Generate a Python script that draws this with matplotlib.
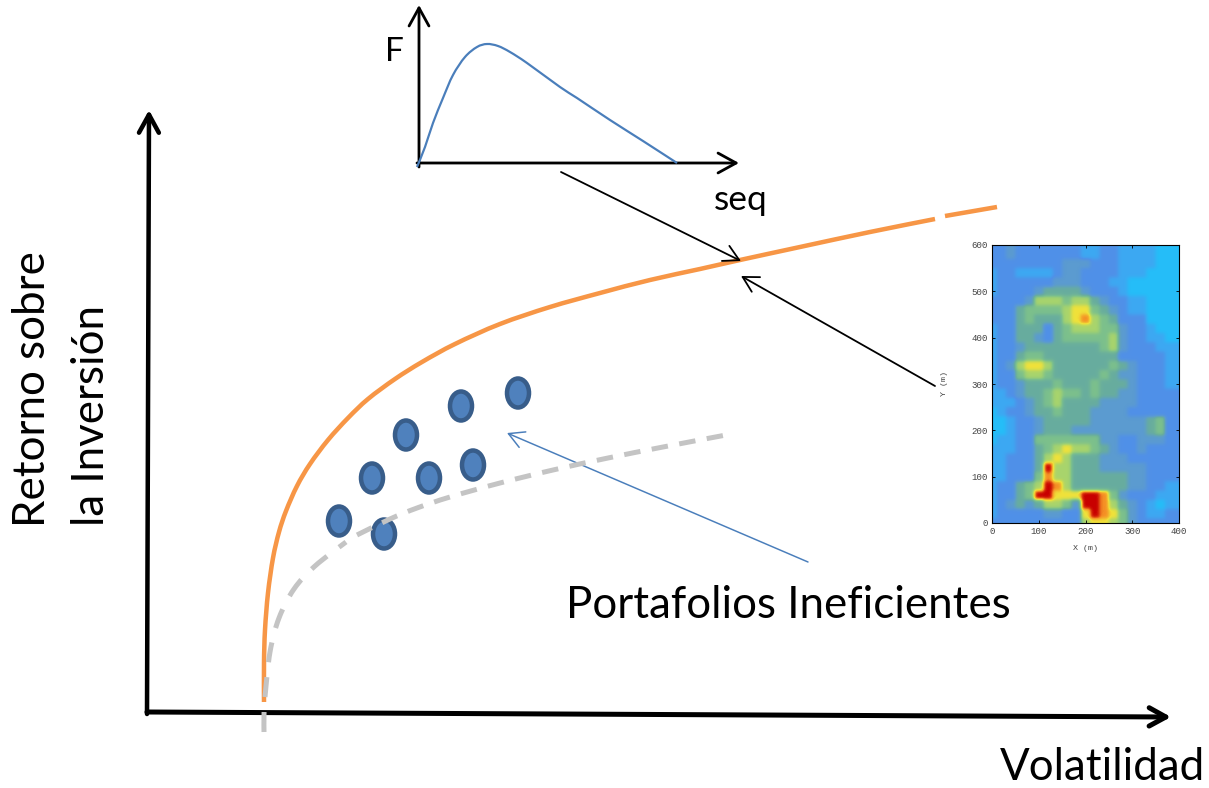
import numpy as np
import matplotlib
matplotlib.use("Agg")
import matplotlib.pyplot as plt
from matplotlib.colors import LinearSegmentedColormap
from matplotlib.patches import Ellipse, PathPatch
from matplotlib.path import Path

plt.rcParams['font.family'] = ['Lato', 'DejaVu Sans']

W, H = 1209, 788

frontier_x = [264, 264, 265, 268, 273, 279, 286, 297, 310, 328, 348, 368, 395, 422, 455, 500, 550, 600, 650, 700, 740, 800, 870, 935]
frontier_y = [702, 663, 630, 593, 558, 532, 511, 486, 464, 440, 418, 399, 379, 362, 344, 324, 307, 293, 280, 269, 260, 247, 232, 219]
frontier_end_x = [945, 997]
frontier_end_y = [216, 207]

inefficient_low_x = [264, 264, 265, 270, 279, 294, 315, 346]
inefficient_low_y = [732, 715, 697, 652, 618, 589, 566, 542]
inefficient_high_x = [357, 390, 417, 450, 500, 553, 608, 663, 726]
inefficient_high_y = [535, 519, 508, 497, 483, 470, 458, 447, 435]

dots_x = [339, 384, 372, 406, 429, 473, 461, 518]
dots_y = [521, 534, 478, 435, 478, 465, 406, 393]

inset_x = [417, 425, 433, 443, 453, 465, 477, 487, 498, 510, 527, 560, 577, 610, 643, 677]
inset_y = [167, 147, 123, 98, 75, 57, 47, 44, 46, 52, 63, 87, 98, 120, 141, 163]

heat_rows = [
    "22322222221122111100",
    "22322222221122111100",
    "22222222333222111100",
    "12211112332222111000",
    "12222223332221100000",
    "12222344443222100000",
    "22223666566432211000",
    "22245555677543211000",
    "22245444678654222000",
    "12244424566655322100",
    "12244324555556322110",
    "12234444444456322211",
    "12245544444444222221",
    "12367764444445432221",
    "12256654444454332221",
    "12234445444544432221",
    "11234456554544332222",
    "11123456444433332222",
    "01223445444333322222",
    "00122344444333333452",
    "00122344433333333452",
    "01122555555533223332",
    "11122456766543223222",
    "11222467644433322222",
    "11222496644433333222",
    "11222586644444433222",
    "12245698644444433221",
    "12245997779985322211",
    "12343466539986432101",
    "12222233227987532112",
    "22222222226776532222",
]
heat_levels = ["#25bdf8", "#3da8f2", "#5090e8", "#5b9bd0", "#68ad9e", "#7cc08c", "#a8d46c", "#f0e23a", "#f59025", "#c80000"]
tick_x = [0, 100, 200, 300, 400]
tick_y = [0, 100, 200, 300, 400, 500, 600]

fig = plt.figure(figsize=(W / 100, H / 100), dpi=100)
ax = fig.add_axes([0, 0, 1, 1])
ax.set_xlim(0, W)
ax.set_ylim(H, 0)
ax.axis('off')


def px(v):
    return v * 0.72


def smooth_path(xs, ys):
    pts = np.column_stack([xs, ys]).astype(float)
    padded = np.vstack([pts[0], pts, pts[-1]])
    verts = [pts[0]]
    codes = [Path.MOVETO]
    for i in range(1, len(padded) - 2):
        p0, p1, p2, p3 = padded[i - 1], padded[i], padded[i + 1], padded[i + 2]
        verts += [p1 + (p2 - p0) / 6, p2 - (p3 - p1) / 6, p2]
        codes += [Path.CURVE4] * 3
    return Path(verts, codes)


def curve(xs, ys, color, lw, z, **kw):
    ax.add_patch(PathPatch(smooth_path(xs, ys), fc='none', ec=color, lw=px(lw), zorder=z, capstyle='butt', **kw))


for cx, cy in zip(dots_x, dots_y):
    ax.add_patch(Ellipse((cx, cy), 22, 29, fc="#4f81bd", ec="#385d8a", lw=px(4.5), zorder=2))

curve(inefficient_low_x, inefficient_low_y, "#c4c4c4", 5, 4.5, linestyle=(0, (4.0, 3.0)))
curve(inefficient_high_x, inefficient_high_y, "#c4c4c4", 5, 4.5, linestyle=(0, (3.3, 2.3)))
curve(frontier_x, frontier_y, "#f79646", 4.5, 2.5)
curve(frontier_end_x, frontier_end_y, "#f79646", 4.5, 2.5)
curve(inset_x, inset_y, "#4a7ebb", 2.2, 4.2)


def arrow(start, end, color, lw, size):
    ax.annotate("", xy=end, xytext=start, zorder=4,
                arrowprops=dict(arrowstyle=f"->,head_length={size},head_width={size * 0.55}",
                                color=color, lw=px(lw), shrinkA=0, shrinkB=0))


arrow((147, 714), (149, 110), "black", 4.5, 1.3)
arrow((147, 712), (1171, 717), "black", 5, 1.2)
arrow((419, 167), (419, 5), "black", 2.8, 1.3)
arrow((417, 163), (739, 163), "black", 2.8, 1.3)
arrow((561, 172), (741, 261), "black", 1.8, 1.1)
arrow((935, 386), (741, 276), "black", 1.8, 1.1)
arrow((808, 562), (507, 433), "#4a7ebb", 1.5, 1.1)

text_kw = dict(color="black", zorder=5)
ax.text(394, 52, "F", fontsize=24, ha='center', va='center', **text_kw)
ax.text(741, 200, "seq", fontsize=25.4, ha='center', va='center', **text_kw)
ax.text(788, 605, "Portafolios Ineficientes", fontsize=31.6, ha='center', va='center', **text_kw)
ax.text(1205, 768, "Volatilidad", fontsize=31.6, ha='right', va='center', **text_kw)
ax.text(33, 389, "Retorno sobre", fontsize=31.6, rotation=90, ha='center', va='center', **text_kw)
ax.text(92, 415, "la Inversión", fontsize=31.6, rotation=90, ha='center', va='center', **text_kw)

heat = np.array([[int(c) for c in row + row[-1]] for row in heat_rows], dtype=float)
heat = np.repeat(np.repeat(heat, 2, axis=0), 2, axis=1)
cmap = LinearSegmentedColormap.from_list("heat", heat_levels, N=256)
hx0, hx1, hy0, hy1 = 992, 1179, 245, 523
hax = fig.add_axes([hx0 / W, 1 - hy1 / H, (hx1 - hx0) / W, (hy1 - hy0) / H])
hax.imshow(heat, cmap=cmap, vmin=0, vmax=9, extent=(-10, 410, -10, 610), aspect='auto', interpolation='gaussian')
hax.set_xlim(0, 400)
hax.set_ylim(0, 600)
hax.set_xticks(tick_x)
hax.set_yticks(tick_y)
hax.tick_params(direction='in', top=True, right=True, length=2, width=0.6, pad=3,
                labelsize=6.6, labelcolor="#444444")
for lab in hax.get_xticklabels() + hax.get_yticklabels():
    lab.set_family('Liberation Mono')
hax.set_xlabel("X (m)", fontsize=6, family='Liberation Mono', color="#444444", labelpad=6)
hax.set_ylabel("Y (m)", fontsize=6, family='Liberation Mono', color="#444444", labelpad=17)
for s in hax.spines.values():
    s.set_linewidth(0.8)

fig.savefig("out.png", dpi=100)
